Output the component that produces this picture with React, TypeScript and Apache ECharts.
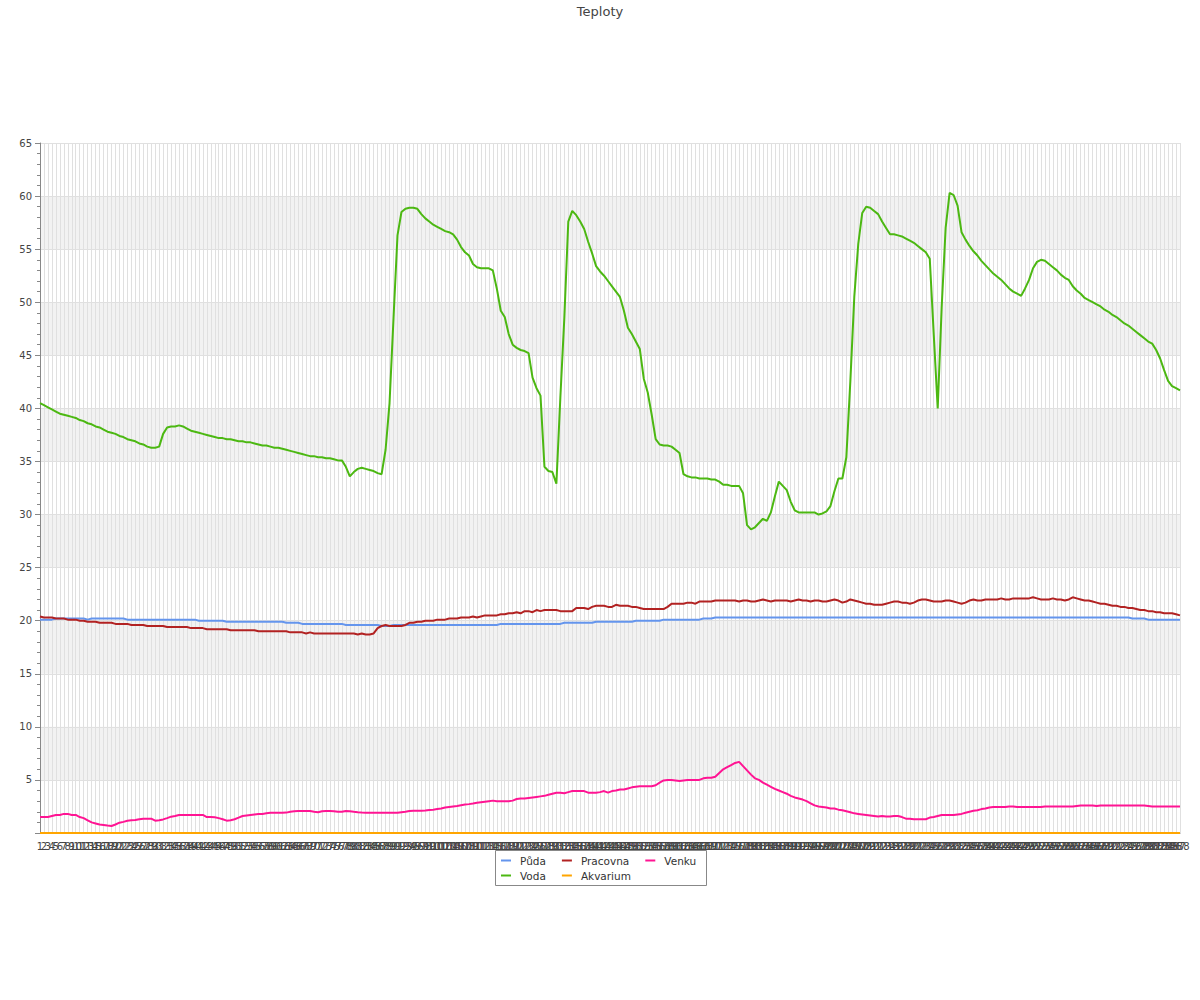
import React, { useEffect, useRef } from "react";
import * as echarts from "echarts";

const categories: string[] = Array.from({ length: 288 }, (_, i) => String(i + 1));

const seriesNames = ["Půda", "Pracovna", "Venku", "Voda", "Akvarium"];
const seriesColors = ["#6495ED", "#B22222", "#FF1493", "#4CB812", "#FFA500"];

const puda = [
  20.1, 20.1, 20.1, 20.1, 20.2, 20.2, 20.2, 20.2, 20.2, 20.2,
  20.2, 20.2, 20.1, 20.2, 20.2, 20.2, 20.2, 20.2, 20.2, 20.2,
  20.2, 20.2, 20.1, 20.1, 20.1, 20.1, 20.1, 20.1, 20.1, 20.1,
  20.1, 20.1, 20.1, 20.1, 20.1, 20.1, 20.1, 20.1, 20.1, 20.1,
  20.0, 20.0, 20.0, 20.0, 20.0, 20.0, 20.0, 19.9, 19.9, 19.9,
  19.9, 19.9, 19.9, 19.9, 19.9, 19.9, 19.9, 19.9, 19.9, 19.9,
  19.9, 19.9, 19.8, 19.8, 19.8, 19.8, 19.7, 19.7, 19.7, 19.7,
  19.7, 19.7, 19.7, 19.7, 19.7, 19.7, 19.7, 19.6, 19.6, 19.6,
  19.6, 19.6, 19.6, 19.6, 19.6, 19.6, 19.5, 19.5, 19.5, 19.6,
  19.6, 19.6, 19.6, 19.6, 19.6, 19.6, 19.6, 19.6, 19.6, 19.6,
  19.6, 19.6, 19.6, 19.6, 19.6, 19.6, 19.6, 19.6, 19.6, 19.6,
  19.6, 19.6, 19.6, 19.6, 19.6, 19.6, 19.7, 19.7, 19.7, 19.7,
  19.7, 19.7, 19.7, 19.7, 19.7, 19.7, 19.7, 19.7, 19.7, 19.7,
  19.7, 19.7, 19.8, 19.8, 19.8, 19.8, 19.8, 19.8, 19.8, 19.8,
  19.9, 19.9, 19.9, 19.9, 19.9, 19.9, 19.9, 19.9, 19.9, 19.9,
  20.0, 20.0, 20.0, 20.0, 20.0, 20.0, 20.0, 20.1, 20.1, 20.1,
  20.1, 20.1, 20.1, 20.1, 20.1, 20.1, 20.1, 20.2, 20.2, 20.2,
  20.3, 20.3, 20.3, 20.3, 20.3, 20.3, 20.3, 20.3, 20.3, 20.3,
  20.3, 20.3, 20.3, 20.3, 20.3, 20.3, 20.3, 20.3, 20.3, 20.3,
  20.3, 20.3, 20.3, 20.3, 20.3, 20.3, 20.3, 20.3, 20.3, 20.3,
  20.3, 20.3, 20.3, 20.3, 20.3, 20.3, 20.3, 20.3, 20.3, 20.3,
  20.3, 20.3, 20.3, 20.3, 20.3, 20.3, 20.3, 20.3, 20.3, 20.3,
  20.3, 20.3, 20.3, 20.3, 20.3, 20.3, 20.3, 20.3, 20.3, 20.3,
  20.3, 20.3, 20.3, 20.3, 20.3, 20.3, 20.3, 20.3, 20.3, 20.3,
  20.3, 20.3, 20.3, 20.3, 20.3, 20.3, 20.3, 20.3, 20.3, 20.3,
  20.3, 20.3, 20.3, 20.3, 20.3, 20.3, 20.3, 20.3, 20.3, 20.3,
  20.3, 20.3, 20.3, 20.3, 20.3, 20.3, 20.3, 20.3, 20.3, 20.3,
  20.3, 20.3, 20.3, 20.3, 20.3, 20.2, 20.2, 20.2, 20.2, 20.1,
  20.1, 20.1, 20.1, 20.1, 20.1, 20.1, 20.1, 20.1,
];

const pracovna = [
  20.4, 20.3, 20.3, 20.3, 20.2, 20.2, 20.2, 20.1, 20.1, 20.1,
  20.0, 20.0, 19.9, 19.9, 19.9, 19.8, 19.8, 19.8, 19.8, 19.7,
  19.7, 19.7, 19.7, 19.6, 19.6, 19.6, 19.6, 19.5, 19.5, 19.5,
  19.5, 19.5, 19.4, 19.4, 19.4, 19.4, 19.4, 19.4, 19.3, 19.3,
  19.3, 19.3, 19.2, 19.2, 19.2, 19.2, 19.2, 19.2, 19.1, 19.1,
  19.1, 19.1, 19.1, 19.1, 19.1, 19.0, 19.0, 19.0, 19.0, 19.0,
  19.0, 19.0, 19.0, 18.9, 18.9, 18.9, 18.9, 18.8, 18.9, 18.8,
  18.8, 18.8, 18.8, 18.8, 18.8, 18.8, 18.8, 18.8, 18.8, 18.8,
  18.7, 18.8, 18.7, 18.7, 18.8, 19.3, 19.5, 19.6, 19.5, 19.5,
  19.5, 19.5, 19.6, 19.8, 19.8, 19.9, 19.9, 20.0, 20.0, 20.0,
  20.1, 20.1, 20.1, 20.2, 20.2, 20.2, 20.3, 20.3, 20.3, 20.4,
  20.3, 20.4, 20.5, 20.5, 20.5, 20.5, 20.6, 20.6, 20.7, 20.7,
  20.8, 20.7, 20.9, 20.9, 20.8, 21.0, 20.9, 21.0, 21.0, 21.0,
  21.0, 20.9, 20.9, 20.9, 20.9, 21.2, 21.2, 21.2, 21.1, 21.3,
  21.4, 21.4, 21.4, 21.3, 21.3, 21.5, 21.4, 21.4, 21.4, 21.3,
  21.3, 21.2, 21.1, 21.1, 21.1, 21.1, 21.1, 21.1, 21.3, 21.6,
  21.6, 21.6, 21.6, 21.7, 21.7, 21.6, 21.8, 21.8, 21.8, 21.8,
  21.9, 21.9, 21.9, 21.9, 21.9, 21.9, 21.8, 21.9, 21.9, 21.8,
  21.8, 21.9, 22.0, 21.9, 21.8, 21.9, 21.9, 21.9, 21.9, 21.8,
  21.9, 22.0, 21.9, 21.9, 21.8, 21.9, 21.9, 21.8, 21.8, 21.9,
  22.0, 21.9, 21.7, 21.8, 22.0, 21.9, 21.8, 21.7, 21.6, 21.6,
  21.5, 21.5, 21.5, 21.6, 21.7, 21.8, 21.8, 21.7, 21.7, 21.6,
  21.7, 21.9, 22.0, 22.0, 21.9, 21.8, 21.8, 21.8, 21.9, 21.9,
  21.8, 21.7, 21.6, 21.7, 21.9, 22.0, 21.9, 21.9, 22.0, 22.0,
  22.0, 22.0, 22.1, 22.0, 22.0, 22.1, 22.1, 22.1, 22.1, 22.1,
  22.2, 22.1, 22.0, 22.0, 22.0, 22.1, 22.0, 22.0, 21.9, 22.0,
  22.2, 22.1, 22.0, 21.9, 21.9, 21.8, 21.7, 21.6, 21.6, 21.5,
  21.4, 21.4, 21.3, 21.3, 21.2, 21.2, 21.1, 21.0, 21.0, 20.9,
  20.9, 20.8, 20.8, 20.7, 20.7, 20.7, 20.6, 20.5,
];

const venku = [
  1.5, 1.5, 1.5, 1.6, 1.7, 1.7, 1.8, 1.8, 1.7, 1.7,
  1.5, 1.4, 1.2, 1.0, 0.9, 0.8, 0.75, 0.7, 0.66, 0.8,
  0.97, 1.05, 1.15, 1.2, 1.22, 1.3, 1.35, 1.35, 1.35, 1.16,
  1.2, 1.28, 1.4, 1.54, 1.6, 1.7, 1.7, 1.7, 1.7, 1.7,
  1.7, 1.7, 1.5, 1.5, 1.48, 1.4, 1.3, 1.16, 1.2, 1.3,
  1.45, 1.6, 1.65, 1.7, 1.75, 1.78, 1.8, 1.85, 1.9, 1.9,
  1.9, 1.9, 1.92, 2.0, 2.05, 2.07, 2.07, 2.07, 2.07, 2.0,
  1.96, 2.05, 2.07, 2.07, 2.05, 2.0, 2.0, 2.08, 2.05, 2.0,
  1.96, 1.93, 1.91, 1.9, 1.9, 1.9, 1.9, 1.9, 1.9, 1.9,
  1.9, 1.95, 2.0, 2.07, 2.1, 2.1, 2.1, 2.12, 2.17, 2.2,
  2.25, 2.3, 2.4, 2.45, 2.5, 2.55, 2.62, 2.68, 2.72, 2.78,
  2.85, 2.9, 2.95, 3.0, 3.05, 3.0, 3.0, 3.0, 3.0, 3.05,
  3.2, 3.25, 3.25, 3.3, 3.35, 3.4, 3.45, 3.5, 3.6, 3.7,
  3.8, 3.8, 3.75, 3.85, 3.95, 3.95, 3.95, 3.95, 3.8, 3.8,
  3.8, 3.85, 3.95, 3.8, 3.95, 4.0, 4.1, 4.1, 4.2, 4.3,
  4.35, 4.4, 4.4, 4.4, 4.4, 4.5, 4.75, 4.95, 5.0, 5.0,
  4.95, 4.9, 4.95, 5.0, 5.0, 5.0, 5.0, 5.15, 5.2, 5.2,
  5.3, 5.65, 6.0, 6.2, 6.4, 6.6, 6.7, 6.3, 5.9, 5.5,
  5.15, 5.0, 4.75, 4.55, 4.35, 4.15, 4.0, 3.85, 3.7, 3.5,
  3.35, 3.25, 3.15, 3.0, 2.8, 2.6, 2.5, 2.45, 2.4, 2.3,
  2.3, 2.2, 2.15, 2.05, 1.95, 1.85, 1.8, 1.75, 1.7, 1.65,
  1.6, 1.55, 1.6, 1.55, 1.55, 1.6, 1.6, 1.5, 1.35, 1.35,
  1.3, 1.3, 1.3, 1.3, 1.45, 1.5, 1.6, 1.7, 1.7, 1.7,
  1.7, 1.75, 1.8, 1.9, 2.0, 2.1, 2.15, 2.25, 2.3, 2.4,
  2.45, 2.45, 2.45, 2.45, 2.5, 2.5, 2.45, 2.45, 2.45, 2.45,
  2.45, 2.45, 2.45, 2.5, 2.5, 2.5, 2.5, 2.5, 2.5, 2.5,
  2.5, 2.55, 2.6, 2.6, 2.6, 2.6, 2.55, 2.6, 2.6, 2.6,
  2.6, 2.6, 2.6, 2.6, 2.6, 2.6, 2.6, 2.6, 2.6, 2.55,
  2.5, 2.5, 2.5, 2.5, 2.5, 2.5, 2.5, 2.5,
];

const voda = [
  40.5, 40.3, 40.1, 39.9, 39.7, 39.5, 39.4, 39.3, 39.2, 39.1,
  38.9, 38.8, 38.6, 38.5, 38.3, 38.2, 38.0, 37.8, 37.7, 37.6,
  37.4, 37.3, 37.1, 37.0, 36.9, 36.7, 36.6, 36.4, 36.3, 36.3,
  36.4, 37.6, 38.2, 38.3, 38.3, 38.4, 38.3, 38.1, 37.9, 37.8,
  37.7, 37.6, 37.5, 37.4, 37.3, 37.2, 37.2, 37.1, 37.1, 37.0,
  36.9, 36.9, 36.8, 36.8, 36.7, 36.6, 36.5, 36.5, 36.4, 36.3,
  36.3, 36.2, 36.1, 36.0, 35.9, 35.8, 35.7, 35.6, 35.5, 35.5,
  35.4, 35.4, 35.3, 35.3, 35.2, 35.1, 35.1, 34.5, 33.6, 34.0,
  34.3, 34.4, 34.3, 34.2, 34.1, 33.9, 33.8, 36.1, 40.5, 48.5,
  56.3, 58.5, 58.8, 58.9, 58.9, 58.8, 58.3, 57.9, 57.6, 57.3,
  57.1, 56.9, 56.7, 56.6, 56.4, 55.9, 55.2, 54.7, 54.4, 53.6,
  53.3, 53.2, 53.2, 53.2, 53.0, 51.3, 49.2, 48.6, 47.0, 46.0,
  45.7, 45.5, 45.4, 45.2, 42.9, 41.9, 41.2, 34.5, 34.1, 34.0,
  32.9, 41.0, 48.5, 57.6, 58.6, 58.2, 57.6, 56.9, 55.7, 54.6,
  53.4, 52.9, 52.5, 52.0, 51.5, 51.0, 50.5, 49.2, 47.6, 47.0,
  46.3, 45.6, 42.8, 41.5, 39.4, 37.1, 36.6, 36.5, 36.5, 36.4,
  36.1, 35.8, 33.8, 33.6, 33.5, 33.5, 33.4, 33.4, 33.4, 33.3,
  33.3, 33.1, 32.8, 32.8, 32.7, 32.7, 32.7, 32.0, 29.0, 28.6,
  28.8, 29.2, 29.6, 29.4, 30.2, 31.7, 33.1, 32.7, 32.3, 31.2,
  30.4, 30.2, 30.2, 30.2, 30.2, 30.2, 30.0, 30.1, 30.3, 30.8,
  32.2, 33.4, 33.4, 35.4, 42.5, 50.5, 55.5, 58.4, 59.0, 58.9,
  58.6, 58.3, 57.6, 57.0, 56.4, 56.4, 56.3, 56.2, 56.0, 55.8,
  55.6, 55.3, 55.0, 54.7, 54.1, 47.0, 40.0, 49.5, 57.0, 60.3,
  60.1, 59.1, 56.6, 55.9, 55.3, 54.8, 54.4, 53.9, 53.5, 53.1,
  52.7, 52.4, 52.1, 51.7, 51.3, 51.0, 50.8, 50.6, 51.3, 52.1,
  53.2, 53.8, 54.0, 53.9, 53.6, 53.3, 53.0, 52.6, 52.3, 52.1,
  51.5, 51.1, 50.8, 50.4, 50.2, 50.0, 49.8, 49.6, 49.3, 49.1,
  48.8, 48.6, 48.3, 48.0, 47.8, 47.5, 47.2, 46.9, 46.6, 46.3,
  46.1, 45.5, 44.7, 43.6, 42.6, 42.1, 41.9, 41.7,
];

const akvarium = [
  0, 0, 0, 0, 0, 0, 0, 0, 0, 0, 0, 0, 0, 0, 0, 0, 0, 0, 0, 0, 0, 0, 0, 0,
  0, 0, 0, 0, 0, 0, 0, 0, 0, 0, 0, 0, 0, 0, 0, 0, 0, 0, 0, 0, 0, 0, 0, 0,
  0, 0, 0, 0, 0, 0, 0, 0, 0, 0, 0, 0, 0, 0, 0, 0, 0, 0, 0, 0, 0, 0, 0, 0,
  0, 0, 0, 0, 0, 0, 0, 0, 0, 0, 0, 0, 0, 0, 0, 0, 0, 0, 0, 0, 0, 0, 0, 0,
  0, 0, 0, 0, 0, 0, 0, 0, 0, 0, 0, 0, 0, 0, 0, 0, 0, 0, 0, 0, 0, 0, 0, 0,
  0, 0, 0, 0, 0, 0, 0, 0, 0, 0, 0, 0, 0, 0, 0, 0, 0, 0, 0, 0, 0, 0, 0, 0,
  0, 0, 0, 0, 0, 0, 0, 0, 0, 0, 0, 0, 0, 0, 0, 0, 0, 0, 0, 0, 0, 0, 0, 0,
  0, 0, 0, 0, 0, 0, 0, 0, 0, 0, 0, 0, 0, 0, 0, 0, 0, 0, 0, 0, 0, 0, 0, 0,
  0, 0, 0, 0, 0, 0, 0, 0, 0, 0, 0, 0, 0, 0, 0, 0, 0, 0, 0, 0, 0, 0, 0, 0,
  0, 0, 0, 0, 0, 0, 0, 0, 0, 0, 0, 0, 0, 0, 0, 0, 0, 0, 0, 0, 0, 0, 0, 0,
  0, 0, 0, 0, 0, 0, 0, 0, 0, 0, 0, 0, 0, 0, 0, 0, 0, 0, 0, 0, 0, 0, 0, 0,
  0, 0, 0, 0, 0, 0, 0, 0, 0, 0, 0, 0, 0, 0, 0, 0, 0, 0, 0, 0, 0, 0, 0, 0,
];

const seriesData = [puda, pracovna, venku, voda, akvarium];

export default function App() {
  const ref = useRef<HTMLDivElement>(null);
  useEffect(() => {
    document.body.style.margin = "0";
    if (!ref.current) return;
    const chart = echarts.init(ref.current, undefined, { renderer: "svg" });
    const legendText = { fontSize: 10.5, color: "#333", padding: [0, 0, 0, 4] };
    chart.setOption({
      animation: false,
      textStyle: { fontFamily: "DejaVu Sans" },
      title: {
        text: "Teploty",
        left: "center",
        top: 0,
        textStyle: { fontSize: 13, fontWeight: "normal", color: "#444" },
      },
      legend: [
        {
          data: seriesNames.slice(0, 3),
          left: 501,
          top: 855,
          padding: 0,
          itemGap: 16,
          icon: "rect",
          itemWidth: 10,
          itemHeight: 2,
          textStyle: legendText,
        },
        {
          data: seriesNames.slice(3),
          left: 501,
          top: 870,
          padding: 0,
          itemGap: 16,
          icon: "rect",
          itemWidth: 10,
          itemHeight: 2,
          textStyle: legendText,
        },
      ],
      graphic: [
        {
          type: "rect",
          shape: { x: 495.5, y: 850.5, width: 211, height: 35 },
          style: { fill: "transparent", stroke: "#888", lineWidth: 1 },
          silent: true,
        },
      ],
      grid: { left: 40, right: 20, top: 143, bottom: 167 },
      xAxis: {
        type: "category",
        data: categories,
        boundaryGap: false,
        axisLabel: { interval: 0, fontSize: 10, color: "#444", margin: 8 },
        axisTick: { show: false },
        axisLine: { lineStyle: { color: "#888" } },
        splitLine: { show: true, interval: 0, lineStyle: { color: "#e0e0e0", width: 1 } },
      },
      yAxis: {
        type: "value",
        min: 0,
        max: 65,
        interval: 5,
        axisLine: { show: true, lineStyle: { color: "#888" } },
        axisTick: { show: true, length: 5, lineStyle: { color: "#888" } },
        minorTick: { show: true, splitNumber: 5, length: 3, lineStyle: { color: "#888" } },
        axisLabel: { showMinLabel: false, fontSize: 10, color: "#444", margin: 8 },
        splitLine: { show: true, lineStyle: { color: "#e0e0e0" } },
        splitArea: { show: true, areaStyle: { color: ["rgba(255,255,255,0)", "#f2f2f2"] } },
      },
      series: seriesNames.map((name, k) => ({
        name,
        type: "line",
        data: seriesData[k],
        showSymbol: false,
        symbol: "none",
        lineStyle: { width: 2, color: seriesColors[k] },
        itemStyle: { color: seriesColors[k] },
      })),
    });
    return () => chart.dispose();
  }, []);
  return <div ref={ref} style={{ width: 1200, height: 1000 }} />;
}
